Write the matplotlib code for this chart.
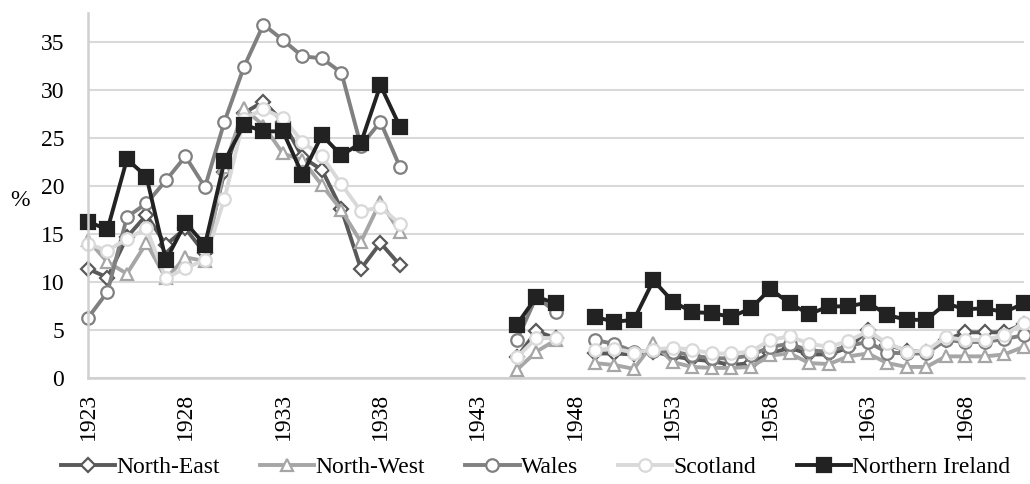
import numpy as np
import matplotlib
matplotlib.use("Agg")
import matplotlib.pyplot as plt

plt.rcParams['font.family'] = ['Liberation Serif', 'DejaVu Serif']

years = list(range(1923, 1972))
tick_years = list(range(1923, 1972, 5))

# values per series: 1923-1939, 1945-1947, 1949-1971 (no data 1940-44, 1948)
ne_a = [11.4, 10.5, 14.7, 17.0, 13.9, 15.6, 13.0, 21.5, 27.6, 28.8, 26.7, 23.0, 21.7, 17.6, 11.4, 14.1, 11.8]
ne_b = [2.2, 4.9, 4.2]
ne_c = [2.6, 2.6, 2.5, 2.8, 2.3, 2.0, 1.8, 1.4, 1.6, 2.6, 3.2, 2.5, 2.5, 3.2, 5.0, 3.5, 2.9, 2.8, 4.0, 4.8, 4.8, 4.8, 5.7]

nw_a = [14.4, 12.1, 10.9, 14.1, 10.4, 12.6, 12.2, 22.0, 28.1, 26.3, 23.4, 22.7, 20.1, 17.5, 14.2, 18.4, 15.2]
nw_b = [0.9, 2.8, 4.0]
nw_c = [1.6, 1.4, 1.0, 3.7, 1.7, 1.2, 1.1, 1.1, 1.2, 2.4, 2.6, 1.6, 1.5, 2.3, 2.6, 1.6, 1.2, 1.2, 2.3, 2.3, 2.3, 2.5, 3.3]

wa_a = [6.3, 9.0, 16.8, 18.2, 20.6, 23.1, 19.9, 26.7, 32.4, 36.8, 35.2, 33.5, 33.3, 31.8, 24.2, 26.7, 22.0]
wa_b = [4.0, 8.5, 6.9]
wa_c = [4.0, 3.6, 2.8, 2.9, 2.8, 2.4, 2.1, 2.1, 2.4, 3.3, 3.6, 2.9, 2.8, 3.4, 3.8, 2.7, 2.6, 2.6, 4.0, 3.8, 3.8, 4.1, 4.5]

sc_a = [14.0, 13.3, 14.5, 15.6, 10.4, 11.5, 12.3, 18.7, 27.0, 28.0, 27.1, 24.6, 23.1, 20.2, 17.4, 17.8, 16.1]
sc_b = [2.2, 4.2, 4.2]
sc_c = [3.0, 3.1, 2.7, 3.0, 3.2, 3.0, 2.6, 2.6, 2.8, 4.0, 4.4, 3.6, 3.3, 3.9, 4.9, 3.7, 2.8, 2.9, 4.3, 4.0, 4.0, 4.5, 5.8]

ni_a = [16.3, 15.5, 22.8, 21.0, 12.3, 16.2, 13.9, 22.6, 26.4, 25.7, 25.7, 21.2, 25.3, 23.2, 24.5, 30.5, 26.2]
ni_b = [5.6, 8.5, 7.8]
ni_c = [6.4, 5.9, 6.1, 10.2, 8.0, 6.9, 6.8, 6.4, 7.3, 9.3, 7.8, 6.7, 7.5, 7.5, 7.9, 6.6, 6.1, 6.1, 7.8, 7.2, 7.3, 6.9, 7.8]


def join(a, b, c):
    nan = [np.nan]
    return np.array(a + nan * 5 + b + nan + c, dtype=float)


series = [
    ("North-East", join(ne_a, ne_b, ne_c), "#595959", "D", 7, "white"),
    ("North-West", join(nw_a, nw_b, nw_c), "#a6a6a6", "^", 8.5, "white"),
    ("Wales", join(wa_a, wa_b, wa_c), "#808080", "o", 9, "white"),
    ("Scotland", join(sc_a, sc_b, sc_c), "#d9d9d9", "o", 9, "white"),
    ("Northern Ireland", join(ni_a, ni_b, ni_c), "#222222", "s", 9.5, "#222222"),
]

fig = plt.figure(figsize=(10.3, 4.84), dpi=100)
ax = fig.add_axes([0.0854, 0.218, 0.9086, 0.755])

for name, vals, col, mk, ms, fc in series:
    ax.plot(years, vals, color=col, lw=2.8, marker=mk, ms=ms, mfc=fc,
            mec=col, mew=1.6, label=name, clip_on=False)

ax.set_xlim(1923, 1971)
ax.set_ylim(0, 38)
ax.set_yticks(range(0, 40, 5))
ax.set_xticks(tick_years)
ax.set_xticklabels([str(y) for y in tick_years], rotation=90)
ax.tick_params(axis='both', length=0, labelsize=17)
ax.tick_params(axis='y', pad=17)
ax.tick_params(axis='x', pad=10)
ax.grid(axis='y', color="#d9d9d9", lw=1.5)
ax.set_axisbelow(True)
for s in ['top', 'right']:
    ax.spines[s].set_visible(False)
for s in ['left', 'bottom']:
    ax.spines[s].set_color("#d0d0d0")
    ax.spines[s].set_linewidth(1.8)

fig.text(0.01, 0.585, "%", fontsize=17, va='center', ha='left')

fig.legend(loc='center', bbox_to_anchor=(0.52, 0.035), ncol=5, frameon=False,
           fontsize=17, handlelength=2.3, handletextpad=0.05, columnspacing=1.7)

fig.savefig("out.png", dpi=100)
